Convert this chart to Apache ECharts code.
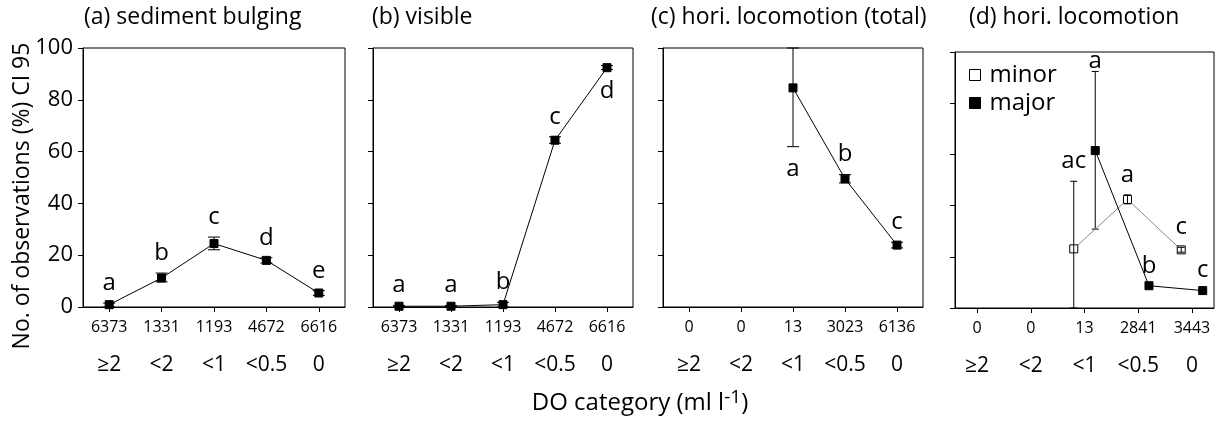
<!DOCTYPE html>
<html><head><meta charset="utf-8">
<script src="https://cdn.jsdelivr.net/npm/echarts@6/dist/echarts.min.js"></script>
<style>html,body{margin:0;padding:0;background:#fff}#c{width:1217px;height:421px}</style>
</head><body><div id="c"></div>
<script>
// ---------- data ----------
const doCategories = ['≥2', '<2', '<1', '<0.5', '0'];
const panelTitles = ['(a) sediment bulging', '(b) visible', '(c) hori. locomotion (total)', '(d) hori. locomotion'];
const yTickValues = [0, 20, 40, 60, 80, 100];

const countsA = ['6373', '1331', '1193', '4672', '6616'];
const countsB = ['6373', '1331', '1193', '4672', '6616'];
const countsC = ['0', '0', '13', '3023', '6136'];
const countsD = ['0', '0', '13', '2841', '3443'];

const bulgingMean = [0.9, 11.2, 24.5, 18.0, 5.4];
const bulgingLow = [0, 9.7, 22.1, 17.0, 4.5];
const bulgingHigh = [1.5, 13.1, 27.0, 19.0, 6.3];
const bulgingLetters = ['a', 'b', 'c', 'd', 'e'];
const bulgingSide = ['up', 'up', 'up', 'up', 'up'];

const visibleMean = [0.3, 0.3, 0.9, 64.4, 92.4];
const visibleLow = [0, 0, 0, 63.2, 91.7];
const visibleHigh = [0.6, 0.6, 1.8, 65.7, 93.2];
const visibleLetters = ['a', 'a', 'b', 'c', 'd'];
const visibleSide = ['up', 'up', 'up', 'up', 'down'];

const totalMean = [null, null, 84.6, 49.5, 23.9];
const totalLow = [null, null, 61.9, 47.9, 22.8];
const totalHigh = [null, null, 100, 51.1, 25.0];
const totalLetters = [null, null, 'a', 'b', 'c'];
const totalSide = [null, null, 'down', 'up', 'up'];

const minorMean = [null, null, 23.1, 42.4, 22.7];
const minorLow = [null, null, 0, 40.7, 21.8];
const minorHigh = [null, null, 49.5, 44.2, 23.7];
const minorLetters = [null, null, 'ac', 'a', 'c'];
const minorSide = [null, null, 'up', 'up', 'up'];

const majorMean = [null, null, 61.5, 8.7, 6.8];
const majorLow = [null, null, 30.8, 8.7, 6.8];
const majorHigh = [null, null, 92.4, 8.7, 6.8];
const majorLetters = [null, null, 'a', 'b', 'c'];
const majorSide = [null, null, 'tight', 'up', 'up'];

// ---------- layout / style ----------
const FONT = '"Open Sans", "DejaVu Sans", sans-serif';
const grids = [
  {left: 83, top: 48, width: 262, height: 259},
  {left: 373, top: 48, width: 260, height: 259},
  {left: 663, top: 48, width: 260, height: 259},
  {left: 955, top: 52, width: 259, height: 256}
];
const xRange = [[-0.5, 4.5], [-0.5, 4.5], [-0.5, 4.5], [-0.41, 4.41]];
const countLabels = [countsA, countsB, countsC, countsD];
const titleLeft = [84, 372, 651, 969];
const capWidths = [12, 12, 12, 7];
const MINOR_SHIFT = -0.2, MAJOR_SHIFT = 0.2;

const catIdx = [0, 1, 2, 3, 4];

const xAxes = [], yAxes = [], series = [], titles = [];
grids.forEach((g, i) => {
  xAxes.push({
    gridIndex: i, type: 'value', min: xRange[i][0], max: xRange[i][1], position: 'bottom',
    axisLine: {show: true, onZero: false, lineStyle: {color: '#000', width: 1}},
    splitLine: {show: false},
    axisTick: {show: true, customValues: catIdx, length: 5, inside: false, lineStyle: {color: '#000'}},
    axisLabel: {customValues: catIdx, formatter: v => countLabels[i][Math.round(v)], margin: 12,
      fontSize: 16, color: '#000', fontFamily: FONT}
  });
  xAxes.push({
    gridIndex: i, type: 'value', min: xRange[i][0], max: xRange[i][1], position: 'bottom',
    axisLine: {show: false, onZero: false}, splitLine: {show: false}, axisTick: {show: false},
    axisLabel: {customValues: catIdx, formatter: v => doCategories[Math.round(v)], margin: 48,
      fontSize: 21, color: '#000', fontFamily: FONT}
  });
  yAxes.push({
    gridIndex: i, type: 'value', min: 0, max: 100, interval: 20,
    axisLine: {show: true, onZero: false, lineStyle: {color: '#000', width: 1}},
    splitLine: {show: false},
    axisTick: {show: true, length: 5, inside: false, lineStyle: {color: '#000'}},
    axisLabel: {show: i === 0, margin: 10, fontSize: 22, color: '#000', fontFamily: FONT}
  });
  titles.push({
    text: panelTitles[i], left: titleLeft[i], top: 6, padding: 0,
    textStyle: {fontSize: 23, fontWeight: 'normal', color: '#000', fontFamily: FONT}
  });
});

function addGroup(panel, name, mean, low, high, letters, sides, shift, fill, lineColor, errZ) {
  const idx = catIdx.filter(k => mean[k] != null);
  series.push({
    name: name, type: 'line', xAxisIndex: panel * 2, yAxisIndex: panel,
    data: idx.map(k => [k + shift, mean[k]]),
    symbol: 'rect', symbolSize: 8, showSymbol: true, clip: false,
    itemStyle: {color: fill, borderColor: '#000', borderWidth: 1},
    lineStyle: {color: lineColor, width: 1},
    z: 3, silent: true, animation: false
  });
  const cap = capWidths[panel] / 2;
  series.push({
    type: 'custom', xAxisIndex: panel * 2, yAxisIndex: panel, z: errZ, silent: true, animation: false,
    data: idx.map(k => [k + shift, low[k], high[k]]),
    encode: {x: 0, y: [1, 2]},
    renderItem: (params, api) => {
      const k = idx[params.dataIndex];
      const x = api.value(0);
      const pl = api.coord([x, api.value(1)]);
      const ph = api.coord([x, api.value(2)]);
      const st = {stroke: '#000', lineWidth: 1};
      const children = [];
      if (Math.abs(pl[1] - ph[1]) > 0.5) {
        children.push({type: 'line', shape: {x1: pl[0], y1: pl[1], x2: ph[0], y2: ph[1]}, style: st});
        children.push({type: 'line', shape: {x1: pl[0] - cap, y1: pl[1], x2: pl[0] + cap, y2: pl[1]}, style: st});
        children.push({type: 'line', shape: {x1: ph[0] - cap, y1: ph[1], x2: ph[0] + cap, y2: ph[1]}, style: st});
      }
      const side = sides[k];
      let ty;
      if (side === 'down') ty = pl[1] + 22;
      else if (side === 'tight') ty = ph[1] - 10;
      else ty = ph[1] - 20;
      children.push({type: 'text', x: ph[0], y: ty,
        style: {text: letters[k], fontSize: 24, fontFamily: FONT, fill: '#000', align: 'center', verticalAlign: 'middle'}});
      return {type: 'group', children: children};
    }
  });
}

addGroup(0, 'bulging', bulgingMean, bulgingLow, bulgingHigh, bulgingLetters, bulgingSide, 0, '#000', '#000', 2);
addGroup(1, 'visible', visibleMean, visibleLow, visibleHigh, visibleLetters, visibleSide, 0, '#000', '#000', 2);
addGroup(2, 'total', totalMean, totalLow, totalHigh, totalLetters, totalSide, 0, '#000', '#000', 2);
addGroup(3, 'minor', minorMean, minorLow, minorHigh, minorLetters, minorSide, MINOR_SHIFT, '#fff', '#888', 5);
addGroup(3, 'major', majorMean, majorLow, majorHigh, majorLetters, majorSide, MAJOR_SHIFT, '#000', '#000', 2);

const chart = echarts.init(document.getElementById('c'), null, {renderer: 'canvas'});
chart.setOption({
  animation: false,
  backgroundColor: '#fff',
  title: titles,
  grid: grids.map(g => Object.assign({show: true, borderColor: '#000', borderWidth: 1, backgroundColor: 'transparent'}, g)),
  xAxis: xAxes,
  yAxis: yAxes,
  legend: {
    data: [
      {name: 'minor', icon: 'rect', itemStyle: {color: '#fff', borderColor: '#000', borderWidth: 1}},
      {name: 'major', icon: 'rect', itemStyle: {color: '#000', borderColor: '#000', borderWidth: 1}}
    ],
    orient: 'vertical', left: 964, top: 58, itemWidth: 11, itemHeight: 11, itemGap: 4,
    selectedMode: false,
    textStyle: {fontSize: 24, color: '#000', fontFamily: FONT, lineHeight: 23, padding: [0, 0, 0, 4]}
  },
  graphic: [
    {type: 'text', x: 22, y: 196, rotation: Math.PI / 2,
      style: {text: 'No. of observations (%) CI 95', fontSize: 23, fontFamily: FONT, fill: '#000', align: 'center', verticalAlign: 'middle'}},
    {type: 'text', x: 640, y: 403,
      style: {text: '{a|DO category (ml l}{s|-1}{a|)}', align: 'center', verticalAlign: 'middle',
        rich: {a: {fontSize: 24, fontFamily: FONT, fill: '#000', lineHeight: 30}, s: {fontSize: 19, fontFamily: FONT, fill: '#000', verticalAlign: 'top', lineHeight: 22}}}}
  ],
  series: series
});
</script></body></html>
